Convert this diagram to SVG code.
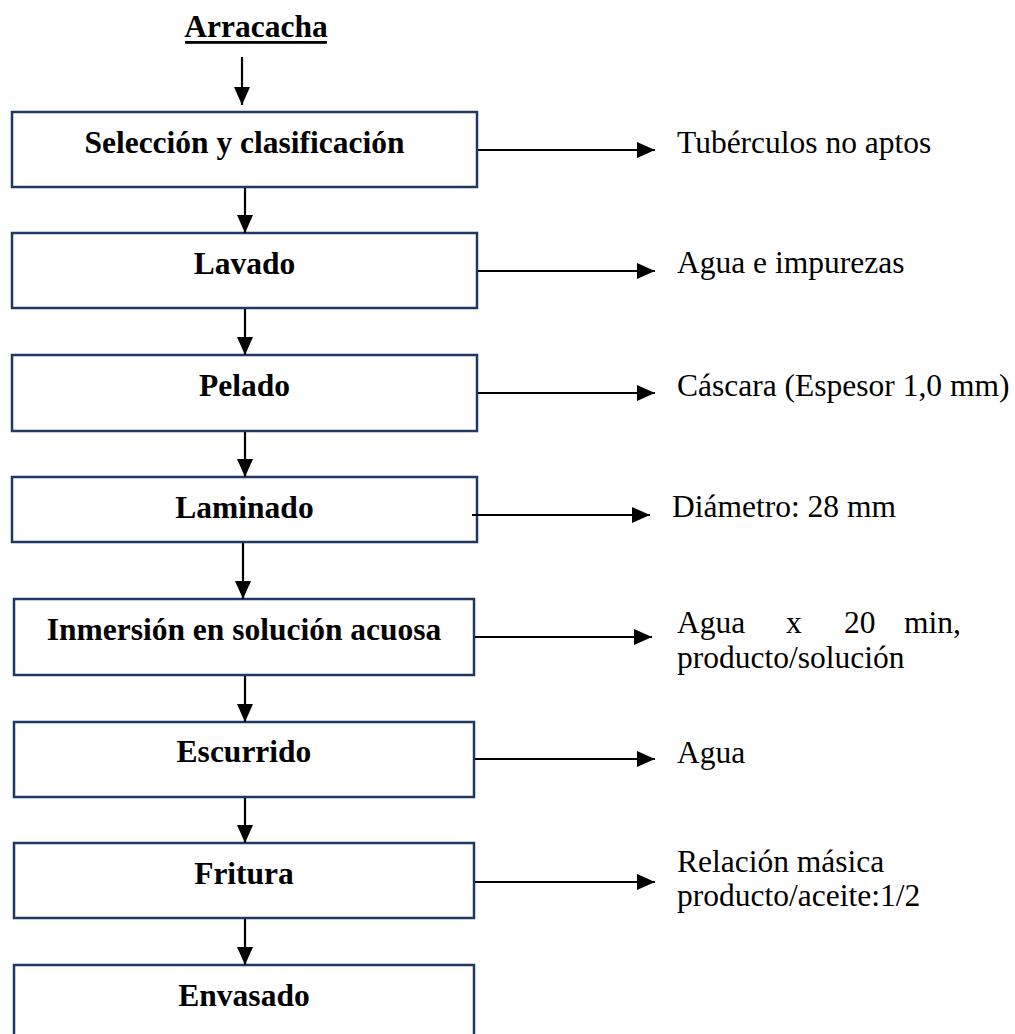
<svg xmlns="http://www.w3.org/2000/svg" width="1015" height="1034" viewBox="0 0 1015 1034">
<defs>
<style>
.box{fill:#fff;stroke:#1f3864;stroke-width:2.5}
.bt{font-family:"Liberation Serif","Times New Roman",serif;font-weight:bold;font-size:31.5px;fill:#000;text-anchor:middle}
.rt{font-family:"Liberation Serif","Times New Roman",serif;font-size:31.5px;fill:#000}
.ln{stroke:#000;stroke-width:2.2;fill:none;marker-end:url(#ah)}
</style>
<marker id="ah" markerUnits="userSpaceOnUse" markerWidth="18" markerHeight="16" refX="18" refY="8" orient="auto">
<path d="M0,0 L18,8 L0,16 z" fill="#000"/>
</marker>
</defs>
<rect width="1015" height="1034" fill="#fff"/>
<g id="title">
<text class="bt" x="256" y="37">Arracacha</text>
<rect x="185" y="41" width="142" height="2.8" fill="#000"/>
</g>
<g id="n1"><rect class="box" x="12" y="112" width="465" height="75"/><text class="bt" x="244.5" y="153">Selección y clasificación</text></g>
<g id="n2"><rect class="box" x="12" y="233" width="465" height="75"/><text class="bt" x="244.5" y="274">Lavado</text></g>
<g id="n3"><rect class="box" x="12" y="355" width="465" height="76"/><text class="bt" x="244.5" y="396">Pelado</text></g>
<g id="n4"><rect class="box" x="12" y="477" width="465" height="65"/><text class="bt" x="244.5" y="518">Laminado</text></g>
<g id="n5"><rect class="box" x="14" y="599" width="460" height="76"/><text class="bt" x="244" y="640">Inmersión en solución acuosa</text></g>
<g id="n6"><rect class="box" x="14" y="722" width="460" height="75"/><text class="bt" x="244" y="762">Escurrido</text></g>
<g id="n7"><rect class="box" x="14" y="843" width="460" height="75"/><text class="bt" x="244" y="884">Fritura</text></g>
<g id="n8"><rect class="box" x="14" y="965" width="460" height="80"/><text class="bt" x="244" y="1006">Envasado</text></g>
<g id="o1"><text class="rt" x="677" y="153">Tubérculos no aptos</text></g>
<g id="o2"><text class="rt" x="677" y="273">Agua e impurezas</text></g>
<g id="o3"><text class="rt" x="677" y="396">Cáscara (Espesor 1,0 mm)</text></g>
<g id="o4"><text class="rt" x="672" y="517">Diámetro: 28 mm</text></g>
<g id="o5"><text class="rt" y="633"><tspan x="677">Agua</tspan><tspan x="786">x</tspan><tspan x="844">20</tspan><tspan x="904">min,</tspan></text><text class="rt" x="677" y="668">producto/solución</text></g>
<g id="o6"><text class="rt" x="677" y="763">Agua</text></g>
<g id="o7"><text class="rt" x="677" y="872">Relación másica</text><text class="rt" x="677" y="906">producto/aceite:1/2</text></g>
<g id="connectors">
<line class="ln" x1="242" y1="57" x2="242" y2="105"/>
<line class="ln" x1="245" y1="188" x2="245" y2="233"/>
<line class="ln" x1="245" y1="309" x2="245" y2="355"/>
<line class="ln" x1="245" y1="432" x2="245" y2="477"/>
<line class="ln" x1="243" y1="543" x2="243" y2="599"/>
<line class="ln" x1="245" y1="676" x2="245" y2="722"/>
<line class="ln" x1="245" y1="798" x2="245" y2="843"/>
<line class="ln" x1="245" y1="919" x2="245" y2="965"/>
<line class="ln" x1="478" y1="150" x2="655" y2="150"/>
<line class="ln" x1="478" y1="271" x2="655" y2="271"/>
<line class="ln" x1="478" y1="393" x2="655" y2="393"/>
<line class="ln" x1="472" y1="515" x2="650" y2="515"/>
<line class="ln" x1="475" y1="637" x2="652" y2="637"/>
<line class="ln" x1="475" y1="759" x2="655" y2="759"/>
<line class="ln" x1="475" y1="882" x2="655" y2="882"/>
</g>
</svg>
